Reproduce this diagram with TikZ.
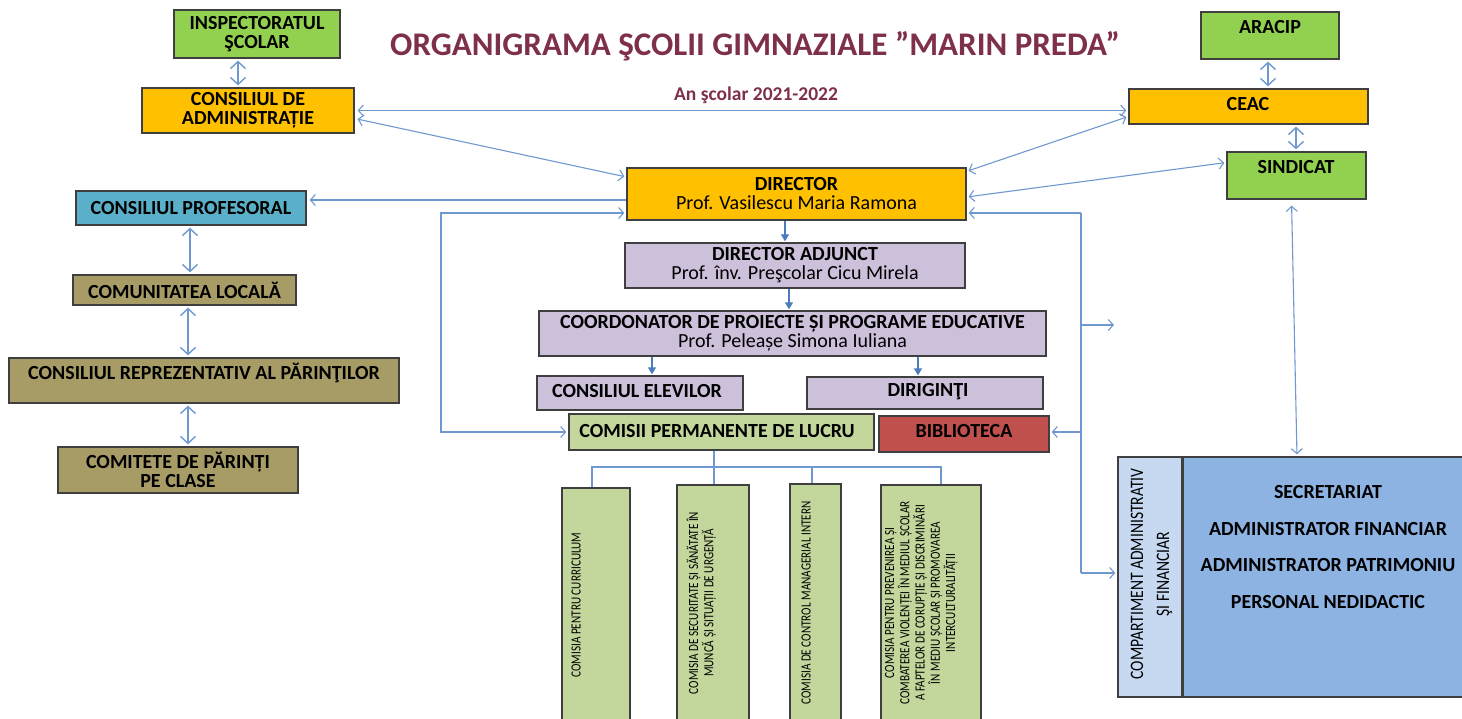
\documentclass[tikz,border=0pt]{standalone}
\usepackage{fontspec}
\setmainfont{Carlito}
\usetikzlibrary{arrows.meta}
\definecolor{lnblue}{HTML}{6F98D0}
\definecolor{arblue}{HTML}{4A7EBB}
\definecolor{bord}{HTML}{3F3F3F}
\definecolor{cgreen}{HTML}{92D050}
\definecolor{corange}{HTML}{FFC000}
\definecolor{cteal}{HTML}{5BB0C9}
\definecolor{colive}{HTML}{A79C66}
\definecolor{clav}{HTML}{CCC0DA}
\definecolor{clgreen}{HTML}{C3D69B}
\definecolor{cred}{HTML}{C0504D}
\definecolor{cpale}{HTML}{C6D9F1}
\definecolor{cblue}{HTML}{8DB3E2}
\definecolor{ctitle}{HTML}{7E3048}
\tikzset{
  box/.style={draw=bord, line width=1.3pt, inner sep=0pt, align=center, font=\fontsize{20}{19}\selectfont\bfseries},
  lbl/.style={inner sep=0pt, align=center, font=\fontsize{20}{20}\selectfont\bfseries},
  ctext/.style={inner sep=0pt, align=center, rotate=90, font=\fontsize{14}{12.8}\selectfont},
  conn/.style={draw=lnblue, line width=1.1pt},
  bi/.style={conn, {Straight Barb[length=5pt,width=11pt]}-{Straight Barb[length=5pt,width=11pt]}},
  one/.style={conn, -{Straight Barb[length=5pt,width=11pt]}},
  bigbi/.style={conn, line width=1.4pt, shorten <=2pt, shorten >=2pt, {Straight Barb[length=7pt,width=15pt]}-{Straight Barb[length=7pt,width=15pt]}},
  down/.style={draw=arblue, line width=1.3pt, shorten >=1pt, -{Triangle[length=7pt,width=8pt]}},
  tree/.style={draw=lnblue, line width=1.1pt},
}
\newcommand{\sq}[2]{\scalebox{#1}[1]{\begin{tabular}{@{}c@{}}#2\end{tabular}}}
\begin{document}
\begin{tikzpicture}[x=1pt,y=-1pt]
\useasboundingbox (0,0) rectangle (1462,719);
\clip (0,0) rectangle (1462,719);

% title
\node[text=ctitle, font=\fontsize{33}{33}\selectfont\bfseries] (title) at (755,46) {ORGANIGRAMA ŞCOLII GIMNAZIALE ”MARIN PREDA”};
\node[text=ctitle, font=\fontsize{19.5}{19.5}\selectfont\bfseries] (year) at (756,95) {An şcolar 2021-2022};

% left column
\node[box, fill=cgreen, minimum width=166, minimum height=48] (insp) at (257,34) {INSPECTORATUL\\ŞCOLAR};
\node[box, fill=corange, minimum width=212, minimum height=45] (ca) at (248,110.5) {CONSILIUL DE\\ADMINISTRAȚIE};
\node[box, fill=cteal, minimum width=230, minimum height=34] (cp) at (191,208) {CONSILIUL PROFESORAL};
\node[box, fill=colive, minimum width=223, minimum height=30] (cl) at (184.5,290) {COMUNITATEA LOCALĂ};
\node[box, fill=colive, minimum width=390, minimum height=45] (crp) at (204,380.5) {};
\node[lbl] (crpt) at (204,373) {CONSILIUL REPREZENTATIV AL PĂRINŢILOR};
\node[box, fill=colive, minimum width=240, minimum height=46] (cpc) at (178,470) {COMITETE DE PĂRINȚI\\PE CLASE};

% right column
\node[box, fill=cgreen, minimum width=138, minimum height=47] (aracip) at (1270,35.5) {};
\node[lbl] (aracipt) at (1270,27) {ARACIP};
\node[box, fill=corange, minimum width=239, minimum height=35] (ceac) at (1248.5,106.5) {};
\node[lbl] (ceact) at (1248,104) {CEAC};
\node[box, fill=cgreen, minimum width=139, minimum height=47] (sind) at (1296.5,175.5) {};
\node[lbl] (sindt) at (1296,167) {SINDICAT};

% centre
\node[box, fill=corange, minimum width=339, minimum height=52] (dir) at (796.5,194) {DIRECTOR\\{\mdseries Prof. Vasilescu Maria Ramona}};
\node[box, fill=clav, minimum width=340, minimum height=45] (adj) at (795,265.5) {DIRECTOR ADJUNCT\\{\mdseries Prof. înv. Preşcolar Cicu Mirela}};
\node[box, fill=clav, minimum width=507, minimum height=45] (coord) at (792.5,333.5) {COORDONATOR DE PROIECTE ȘI PROGRAME EDUCATIVE\\{\mdseries Prof. Peleașe Simona Iuliana}};
\node[box, fill=clav, minimum width=206, minimum height=34] (elev) at (640,393) {};
\node[lbl] (elevt) at (637,391) {CONSILIUL ELEVILOR};
\node[box, fill=clav, minimum width=236, minimum height=32] (dirig) at (925,393) {};
\node[lbl] (dirigt) at (928,392) {DIRIGINŢI};
\node[box, fill=clgreen, minimum width=305, minimum height=36] (comisii) at (721.5,432) {};
\node[lbl] (comisiit) at (717,431) {COMISII PERMANENTE DE LUCRU};
\node[box, fill=cred, minimum width=170, minimum height=36] (bib) at (964,434) {};
\node[lbl] (bibt) at (964,431) {BIBLIOTECA};

% committees
\node[box, fill=clgreen, minimum width=68, minimum height=242] (c1) at (596,609) {};
\node[box, fill=clgreen, minimum width=72, minimum height=245] (c2) at (713,607.5) {};
\node[box, fill=clgreen, minimum width=51, minimum height=246] (c3) at (815.5,607) {};
\node[box, fill=clgreen, minimum width=100, minimum height=245] (c4) at (931,607.5) {};
\node[ctext] (c1t) at (578,605) {\sq{0.8}{COMISIA PENTRU CURRICULUM}};
\node[ctext] (c2t) at (702,603) {\sq{0.8}{COMISIA DE SECURITATE ȘI SĂNĂTATE ÎN\\MUNCĂ ȘI SITUAȚII DE URGENȚĂ}};
\node[ctext] (c3t) at (808,603) {\sq{0.8}{COMISIA DE CONTROL MANAGERIAL INTERN}};
\node[ctext] (c4t) at (922,603) {\sq{0.8}{COMISIA PENTRU PREVENIREA ȘI\\COMBATEREA VIOLENȚEI ÎN MEDIUL ȘCOLAR\\A FAPTELOR DE CORUPȚIE ȘI DISCRIMINĂRI\\ÎN MEDIU ȘCOLAR ȘI PROMOVAREA\\INTERCULTURALITĂȚII}};

% compartment
\node[box, fill=cpale, minimum width=64, minimum height=240] (compL) at (1150,577) {};
\node[box, fill=cblue, minimum width=292, minimum height=240] (compR) at (1329,577) {};
\node[inner sep=0pt, rotate=90, font=\fontsize{19}{26}\selectfont] (compt) at (1151,574) {\sq{0.82}{COMPARTIMENT ADMINISTRATIV\\ŞI FINANCIAR}};
\node[lbl, font=\fontsize{20}{36.7}\selectfont\bfseries] (compRt) at (1328,547) {SECRETARIAT\\ADMINISTRATOR FINANCIAR\\ADMINISTRATOR PATRIMONIU\\PERSONAL NEDIDACTIC};

% column coordinates
\coordinate (xInsp) at (238,0);
\coordinate (xCP) at (190,0);
\coordinate (xCL) at (188,0);
\coordinate (xAr) at (1268,0);
\coordinate (xCe) at (1296,0);
\coordinate (xSi) at (1297,0);
\coordinate (xD1) at (785,0);
\coordinate (xD2) at (789,0);
\coordinate (xD3) at (652,0);
\coordinate (xD4) at (918,0);

% vertical double arrows
\draw[bigbi] (insp.south -| xInsp) -- (ca.north -| xInsp);
\draw[bigbi] (cp.south -| xCP) -- (cl.north -| xCP);
\draw[bigbi] (cl.south -| xCL) -- (crp.north -| xCL);
\draw[bigbi] (crp.south -| xCL) -- (cpc.north -| xCL);
\draw[bigbi] (aracip.south -| xAr) -- (ceac.north -| xAr);
\draw[bigbi] (ceac.south -| xCe) -- (sind.north -| xCe);
\draw[bi, shorten <=6pt, shorten >=2pt] ([xshift=-5pt]sind.south) -- (compR.north -| xSi);

% links around the director
\draw[bi, shorten <=3pt, shorten >=2pt] (ca.east) -- (ceac.west |- ca.east);
\draw[bi, shorten <=3pt, shorten >=2pt] ([yshift=-8pt]ca.east) -- ([yshift=17pt]dir.west);
\draw[bi, shorten <=2pt, shorten >=2pt] ([yshift=-10pt]ceac.west) -- ([yshift=-4pt]dir.north east);
\draw[bi, shorten <=2pt, shorten >=2pt] ([yshift=-3pt]dir.east) -- ([yshift=13pt]sind.west);
\draw[one, shorten >=3pt] ([yshift=-6pt]dir.west) coordinate (d1) -- (cp.east |- d1);

% left loop
\coordinate (lt) at (441,213);
\coordinate (lb) at (441,432);
\draw[bi, shorten <=2pt, shorten >=2pt] (dir.west |- lt) -- (lt) -- (lb) -- (comisii.west |- lb);

% right loop
\coordinate (rt) at (1081,213);
\coordinate (rm) at (1081,325);
\coordinate (rf) at (1114,325);
\coordinate (rbib) at (1081,432);
\coordinate (rb) at (1081,573);
\draw[conn] (rt) -- (rb);
\draw[one, shorten >=2pt] (rt) -- (dir.east |- rt);
\draw[one] (rm) -- (rf);
\draw[one, shorten >=2pt] (rbib) -- (bib.east |- rbib);
\draw[one, shorten >=2pt] (rb) -- (compL.west |- rb);

% hierarchy arrows
\draw[down] (dir.south -| xD1) -- (adj.north -| xD1);
\draw[down] (adj.south -| xD2) -- (coord.north -| xD2);
\draw[down] (coord.south -| xD3) -- (elev.north -| xD3);
\draw[down] (coord.south -| xD4) -- (dirig.north -| xD4);

% committee tree
\coordinate (b1) at (592,467);
\coordinate (b2) at (714,467);
\coordinate (b3) at (812,467);
\coordinate (b4) at (941,467);
\draw[tree] (comisii.south -| b2) -- (c2.north -| b2);
\draw[tree] (c1.north -| b1) -- (b1) -- (b4) -- (c4.north -| b4);
\draw[tree] (b3) -- (c3.north -| b3);
\end{tikzpicture}
\end{document}
